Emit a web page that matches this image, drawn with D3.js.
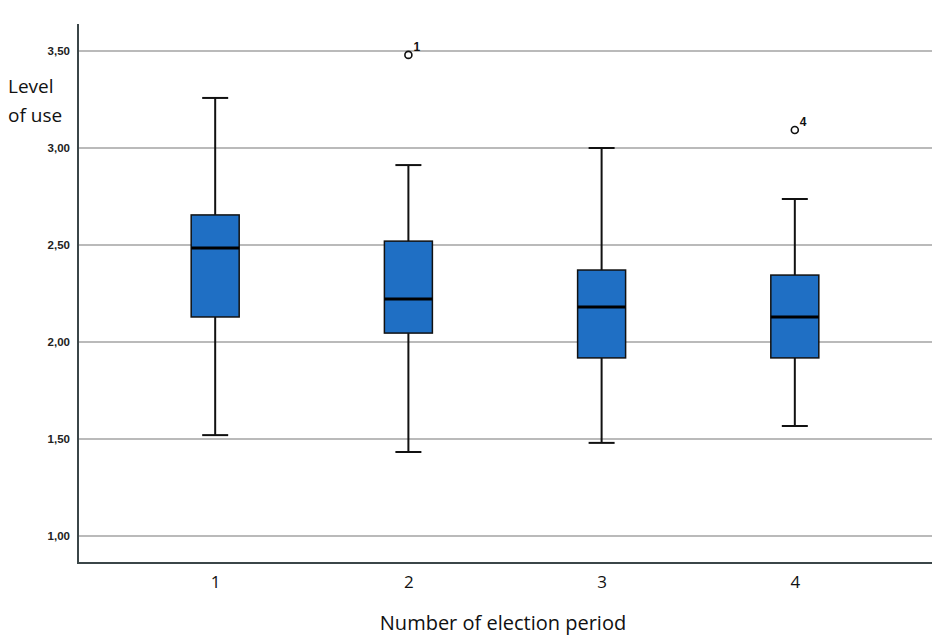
<!DOCTYPE html>
<html><head><meta charset="utf-8">
<script src="https://cdn.jsdelivr.net/npm/d3@7"></script>
<style>body{margin:0;background:#fff}</style>
</head><body><svg id="c" width="942" height="637"></svg>
<script>
const categories = ["1","2","3","4"];
const whiskerLow  = [1.52, 1.433, 1.48, 1.567];
const q1          = [2.129, 2.046, 1.918, 1.918];
const median      = [2.485, 2.222, 2.180, 2.129];
const q3          = [2.655, 2.520, 2.371, 2.345];
const whiskerHigh = [3.258, 2.912, 3.000, 2.737];
const outliers = [{cat:"2", value:3.48, label:"1"},{cat:"4", value:3.093, label:"4"}];
const yTicks = [1.0,1.5,2.0,2.5,3.0,3.5];

const svg = d3.select("#c");
const L=78, R=932, T=24, B=563;
const x = d3.scalePoint().domain(categories).range([L,R]).padding(0.71);
const y = d3.scaleLinear().domain([1.0 - 27/194, 3.5 + 27/194]).range([B,T]);
const fmt = d => d3.format(".2f")(d).replace(".", ",");

svg.append("g").selectAll("line").data(yTicks).join("line")
  .attr("x1",L).attr("x2",R).attr("y1",d=>y(d)).attr("y2",d=>y(d))
  .attr("stroke","#a3a3a3").attr("stroke-width",1.3);

const ya = svg.append("g").attr("transform",`translate(${L},0)`)
  .call(d3.axisLeft(y).tickValues(yTicks).tickFormat(fmt).tickSize(0).tickPadding(8));
ya.select(".domain").remove();
ya.selectAll("text").attr("font-family","Liberation Sans, Arial, sans-serif").attr("font-size",11.5).attr("font-weight","bold").attr("fill","#222");

const xa = svg.append("g").attr("transform",`translate(0,${B})`)
  .call(d3.axisBottom(x).tickSize(0).tickPadding(13));
xa.select(".domain").remove();
xa.selectAll("text").attr("font-family","Open Sans, sans-serif").attr("font-size",17).attr("fill","#111");

svg.append("path").attr("d",`M${L},${T}V${B}H${R}`).attr("fill","none").attr("stroke","#3b4648").attr("stroke-width",2);

const bw=48, cw=26;
const g = svg.append("g").selectAll("g").data(categories).join("g");
g.append("line").attr("x1",d=>x(d)).attr("x2",d=>x(d))
  .attr("y1",(d,i)=>y(whiskerHigh[i])).attr("y2",(d,i)=>y(q3[i])).attr("stroke","#111").attr("stroke-width",2);
g.append("line").attr("x1",d=>x(d)).attr("x2",d=>x(d))
  .attr("y1",(d,i)=>y(q1[i])).attr("y2",(d,i)=>y(whiskerLow[i])).attr("stroke","#111").attr("stroke-width",2);
g.append("line").attr("x1",d=>x(d)-cw/2).attr("x2",d=>x(d)+cw/2)
  .attr("y1",(d,i)=>y(whiskerHigh[i])).attr("y2",(d,i)=>y(whiskerHigh[i])).attr("stroke","#111").attr("stroke-width",2);
g.append("line").attr("x1",d=>x(d)-cw/2).attr("x2",d=>x(d)+cw/2)
  .attr("y1",(d,i)=>y(whiskerLow[i])).attr("y2",(d,i)=>y(whiskerLow[i])).attr("stroke","#111").attr("stroke-width",2);
g.append("rect").attr("x",d=>x(d)-bw/2).attr("width",bw)
  .attr("y",(d,i)=>y(q3[i])).attr("height",(d,i)=>y(q1[i])-y(q3[i]))
  .attr("fill","#1f6fc4").attr("stroke","#111").attr("stroke-width",1.5);
g.append("line").attr("x1",d=>x(d)-bw/2).attr("x2",d=>x(d)+bw/2)
  .attr("y1",(d,i)=>y(median[i])).attr("y2",(d,i)=>y(median[i])).attr("stroke","#000").attr("stroke-width",3);

const o = svg.append("g").selectAll("g").data(outliers).join("g");
o.append("circle").attr("cx",d=>x(d.cat)).attr("cy",d=>y(d.value)).attr("r",3.5)
  .attr("fill","none").attr("stroke","#111").attr("stroke-width",1.6);
o.append("text").attr("x",d=>x(d.cat)+5).attr("y",d=>y(d.value)-4).text(d=>d.label)
  .attr("font-family","Liberation Sans, Arial, sans-serif").attr("font-size",12).attr("font-weight","bold").attr("fill","#111");

svg.append("text").attr("x",8).attr("y",93).text("Level").attr("font-family","Open Sans, sans-serif").attr("font-size",19).attr("fill","#111");
svg.append("text").attr("x",8).attr("y",122).text("of use").attr("font-family","Open Sans, sans-serif").attr("font-size",19).attr("fill","#111");
svg.append("text").attr("x",503).attr("y",630).attr("text-anchor","middle").text("Number of election period")
  .attr("font-family","Open Sans, sans-serif").attr("font-size",20).attr("fill","#111");
</script></body></html>
